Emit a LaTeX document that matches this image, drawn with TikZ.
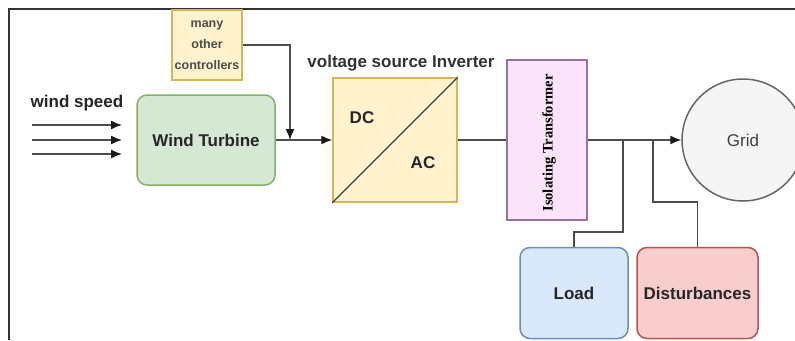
\documentclass[tikz,border=0pt]{standalone}
\usepackage{fontspec}
\setmainfont{Liberation Sans}
\newfontfamily\trafofont{Liberation Serif}
\usetikzlibrary{arrows,arrows.meta,shapes,backgrounds}

\definecolor{wirecol}{HTML}{4D4D4D}
\definecolor{greenfill}{HTML}{D5E8D4}
\definecolor{greendraw}{HTML}{82B366}
\definecolor{yellowfill}{HTML}{FFF2CC}
\definecolor{yellowdraw}{HTML}{D6B656}
\definecolor{pinkfill}{HTML}{FBE4FB}
\definecolor{pinkdraw}{HTML}{9673A6}
\definecolor{greyfill}{HTML}{F5F5F5}
\definecolor{greydraw}{HTML}{666666}
\definecolor{bluefill}{HTML}{DAE8FC}
\definecolor{bluedraw}{HTML}{6C8EBF}
\definecolor{redfill}{HTML}{F8CECC}
\definecolor{reddraw}{HTML}{B85450}

\begin{document}
\begin{tikzpicture}[x=1pt,y=-1pt]
        \tikzstyle{txt}=[font=\fontsize{17}{20}\selectfont\bfseries, text=black!85]
        \tikzstyle{block}=[rectangle, line width=1.5pt, inner sep=0pt, txt]
        \tikzstyle{rblock}=[block, rounded corners=10pt]
        \tikzstyle{wire}=[draw=wirecol, line width=1.4pt]
        \tikzstyle{flow}=[wire, -{Latex[length=11pt,width=9pt,color=black!90]}]
        \useasboundingbox (0,0) rectangle (795,340);
        % frame
        \draw [line width=1.6pt, black!80] (9,340) -- (9,9) -- (795,9);
        % blocks
        \node [block, draw=yellowdraw, fill=yellowfill, minimum width=70, minimum height=70,
               align=center, font=\fontsize{12.5}{21}\selectfont\bfseries, text=black!70] (ctrl) at (207,45) {many\\other\\controllers};
        \node [rblock, draw=greendraw, fill=greenfill, minimum width=138, minimum height=90] (wt) at (206,140) {Wind Turbine};
        \node [block, draw=yellowdraw, fill=yellowfill, minimum width=124, minimum height=124] (vsi) at (395,140) {};
        \node [block, draw=pinkdraw, fill=pinkfill, minimum width=80, minimum height=160] (trafo) at (547,140) {};
        \node [circle, line width=1.5pt, draw=greydraw, fill=greyfill, minimum size=122, inner sep=0pt,
               font=\fontsize{17}{20}\selectfont, text=black!75] (grid) at (743,140) {Grid};
        \node [rblock, draw=bluedraw, fill=bluefill, minimum width=108, minimum height=91] (load) at (574,293) {Load};
        \node [rblock, draw=reddraw, fill=redfill, minimum width=121, minimum height=91] (dist) at (697.5,293) {Disturbances};
        % inverter inside
        \draw [line width=1.2pt, black!75] (vsi.south west) -- (vsi.north east);
        \node [txt] (dc) at (362,118) {DC};
        \node [txt] (ac) at (423,163) {AC};
        \node [rotate=90, font=\trafofont\bfseries\fontsize{14.5}{16}\selectfont] (trafotxt) at (549,143) {Isolating Transformer};
        % labels
        \node [txt] (wind) at (77,103) {wind speed};
        \node [txt, text=black!80] (vsitxt) at (401,63) {voltage source Inverter};
        % wind input
        \foreach \i/\y in {1/125,2/140,3/154} {
          \coordinate (ws\i) at (32,\y);
          \coordinate (we\i) at (122,\y);
          \draw [flow] (ws\i) -- (we\i);
        }
        % connections
        \coordinate (join) at (290,140);
        \coordinate (tapl) at (623,140);
        \coordinate (tapd) at (653,140);
        \draw [wire] (wt.east) -- (join);
        \draw [flow] (ctrl.east) -| (join);
        \draw [flow] (join) -- (vsi.west);
        \draw [wire] (vsi.east) -- (trafo.west);
        \draw [flow] (trafo.east) -- (grid.west);
        \draw [wire] (tapl) -- ++(0,92) -| (load.north);
        \draw [wire] (tapd) -- ++(0,62) -| (dist.north);
\end{tikzpicture}
\end{document}
